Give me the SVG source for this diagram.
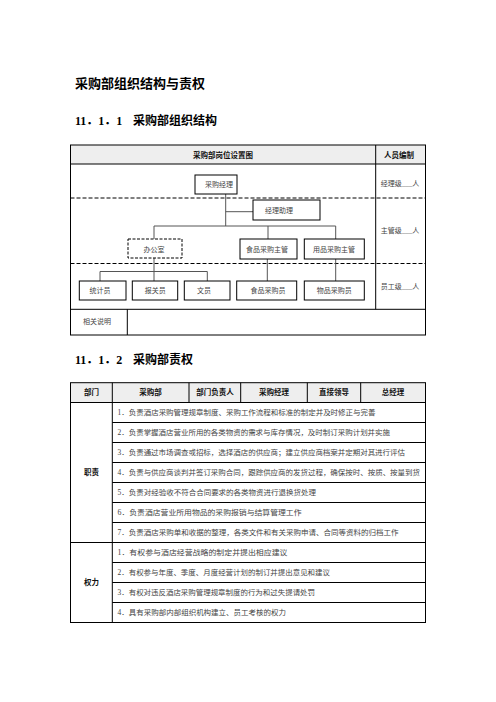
<svg xmlns="http://www.w3.org/2000/svg" width="496" height="702" viewBox="0 0 496 702">
<style>
.t{font-family:"Liberation Serif","Noto Sans CJK SC",serif;fill:#000;font-weight:bold}
.h{font-family:"Noto Sans CJK SC",sans-serif;font-weight:bold;font-size:7.5px;fill:#111;text-anchor:middle}
.o{font-family:"Liberation Serif","Noto Sans CJK SC",serif;font-size:7px;fill:#444;text-anchor:middle}
.r{font-family:"Liberation Serif","Noto Sans CJK SC",serif;font-size:7.2px;fill:#444}
.ln{stroke:#000;stroke-width:1;fill:none}
.dash{stroke:#000;stroke-width:1;stroke-dasharray:4 2;fill:none}
.box{fill:#fff;stroke:#000;stroke-width:1}
.dbox{fill:#fff;stroke:#000;stroke-width:1;stroke-dasharray:3 1.5}
.c{stroke:#555;stroke-width:1;fill:none}
.hd{fill:#eeeeee}
</style>
<rect width="496" height="702" fill="#fff"/>
<text class="t" x="75" y="88" font-size="13">采购部组织结构与责权</text>
<text class="t" font-size="12" y="125"><tspan x="75">11．1．1</tspan><tspan x="133">采购部组织结构</tspan></text>

<g id="table1">
<rect class="hd" x="70.5" y="145" width="355" height="19"/>
<rect class="ln" x="70.5" y="145" width="355" height="190"/>
<line class="ln" x1="70.5" y1="164" x2="425.5" y2="164"/>
<line class="ln" x1="375.7" y1="145" x2="375.7" y2="309.3"/>
<line class="ln" x1="70.5" y1="309.3" x2="425.5" y2="309.3"/>
<line class="ln" x1="127.3" y1="309.3" x2="127.3" y2="335"/>
<line class="dash" x1="70.5" y1="198" x2="425.5" y2="198"/>
<line class="dash" x1="70.5" y1="263.5" x2="425.5" y2="263.5"/>
<text class="h" x="223" y="157.5">采购部岗位设置图</text>
<text class="h" x="399" y="157.5">人员编制</text>
<text class="o" x="97" y="324">相关说明</text>
<text class="o" x="400" y="185.5">经理级___人</text>
<text class="o" x="400" y="233">主管级___人</text>
<text class="o" x="400" y="289">员工级___人</text>
</g>

<g id="connectors">
<polyline class="c" points="225.7,194 225.7,226"/>
<polyline class="c" points="225.7,211.7 253,211.7"/>
<polyline class="c" points="154,239 154,226 335.7,226 335.7,239"/>
<polyline class="c" points="268,226 268,239"/>
<polyline class="c" points="154,258 154,281"/>
<polyline class="c" points="100,281 100,271.5 207.3,271.5 207.3,281"/>
<polyline class="c" points="267.3,259 267.3,281"/>
<polyline class="c" points="335.7,259 335.7,281"/>
</g>

<g id="n-manager"><rect class="box" x="195" y="175" width="42" height="19"/><text class="o" x="219" y="187">采购经理</text></g>
<g id="n-assistant"><rect class="box" x="253" y="200" width="67" height="20"/><text class="o" x="279" y="213">经理助理</text></g>
<g id="n-office"><rect class="dbox" x="128" y="239" width="54" height="19"/><text class="o" x="154" y="251.5">办公室</text></g>
<g id="n-food-sup"><rect class="box" x="240" y="239" width="57" height="20"/><text class="o" x="267" y="252">食品采购主管</text></g>
<g id="n-goods-sup"><rect class="box" x="304.3" y="239" width="60" height="20"/><text class="o" x="334" y="252">用品采购主管</text></g>
<g id="n-stat"><rect class="box" x="79.3" y="281" width="46.7" height="19"/><text class="o" x="100" y="293.2">统计员</text></g>
<g id="n-customs"><rect class="box" x="132.3" y="281" width="45.4" height="19"/><text class="o" x="155.3" y="293.2">报关员</text></g>
<g id="n-clerk"><rect class="box" x="184.3" y="281" width="45.7" height="19"/><text class="o" x="204" y="293.2">文员</text></g>
<g id="n-food-buyer"><rect class="box" x="236.7" y="281" width="60" height="19"/><text class="o" x="268" y="293.2">食品采购员</text></g>
<g id="n-goods-buyer"><rect class="box" x="304.3" y="281" width="60" height="19"/><text class="o" x="334.2" y="293.2">物品采购员</text></g>

<text class="t" font-size="12" y="364"><tspan x="75">11．1．2</tspan><tspan x="133">采购部责权</tspan></text>

<g id="table2">
<rect class="hd" x="70.5" y="382.7" width="355" height="19.8"/>
<rect class="ln" x="70.5" y="382.7" width="355" height="239.8"/>
<line class="ln" x1="70.5" y1="402.5" x2="425.5" y2="402.5"/>
<line class="ln" x1="70.5" y1="542.5" x2="425.5" y2="542.5"/>
<line class="ln" x1="112.3" y1="382.7" x2="112.3" y2="622.5"/>
<line class="ln" x1="189" y1="382.7" x2="189" y2="402.5"/>
<line class="ln" x1="240.7" y1="382.7" x2="240.7" y2="402.5"/>
<line class="ln" x1="307.3" y1="382.7" x2="307.3" y2="402.5"/>
<line class="ln" x1="360.7" y1="382.7" x2="360.7" y2="402.5"/>
<g class="ln">
<line x1="112.3" y1="422.5" x2="425.5" y2="422.5"/>
<line x1="112.3" y1="442.5" x2="425.5" y2="442.5"/>
<line x1="112.3" y1="462.5" x2="425.5" y2="462.5"/>
<line x1="112.3" y1="482.5" x2="425.5" y2="482.5"/>
<line x1="112.3" y1="502.5" x2="425.5" y2="502.5"/>
<line x1="112.3" y1="522.5" x2="425.5" y2="522.5"/>
<line x1="112.3" y1="562.5" x2="425.5" y2="562.5"/>
<line x1="112.3" y1="582.5" x2="425.5" y2="582.5"/>
<line x1="112.3" y1="602.5" x2="425.5" y2="602.5"/>
</g>
<text class="h" x="91.5" y="395">部门</text>
<text class="h" x="150.5" y="395">采购部</text>
<text class="h" x="215" y="395">部门负责人</text>
<text class="h" x="274" y="395">采购经理</text>
<text class="h" x="334" y="395">直接领导</text>
<text class="h" x="393" y="395">总经理</text>
<text class="h" x="91.5" y="475">职责</text>
<text class="h" x="91.5" y="585">权力</text>
<text class="r" x="117.5" y="415" textLength="258" lengthAdjust="spacingAndGlyphs">1．负责酒店采购管理规章制度、采购工作流程和标准的制定并及时修正与完善</text>
<text class="r" x="117.5" y="435" textLength="272.5" lengthAdjust="spacingAndGlyphs">2．负责掌握酒店营业所用的各类物资的需求与库存情况，及时制订采购计划并实施</text>
<text class="r" x="117.5" y="455" textLength="287.5" lengthAdjust="spacingAndGlyphs">3．负责通过市场调查或招标，选择酒店的供应商；建立供应商档案并定期对其进行评估</text>
<text class="r" x="117.5" y="475" textLength="302.5" lengthAdjust="spacingAndGlyphs">4．负责与供应商谈判并签订采购合同，跟踪供应商的发货过程，确保按时、按质、按量到货</text>
<text class="r" x="117.5" y="495" textLength="198.5" lengthAdjust="spacingAndGlyphs">5．负责对经验收不符合合同要求的各类物资进行退换货处理</text>
<text class="r" x="117.5" y="515" textLength="184" lengthAdjust="spacingAndGlyphs">6．负责酒店营业所用物品的采购报销与结算管理工作</text>
<text class="r" x="117.5" y="535" textLength="281" lengthAdjust="spacingAndGlyphs">7．负责酒店采购单和收据的整理，各类文件和有关采购申请、合同等资料的归档工作</text>
<text class="r" x="117.5" y="555" textLength="170" lengthAdjust="spacingAndGlyphs">1．有权参与酒店经营战略的制定并提出相应建议</text>
<text class="r" x="117.5" y="575" textLength="212.5" lengthAdjust="spacingAndGlyphs">2．有权参与年度、季度、月度经营计划的制订并提出意见和建议</text>
<text class="r" x="117.5" y="595" textLength="197.5" lengthAdjust="spacingAndGlyphs">3．有权对违反酒店采购管理规章制度的行为和过失提请处罚</text>
<text class="r" x="117.5" y="615" textLength="168.5" lengthAdjust="spacingAndGlyphs">4．具有采购部内部组织机构建立、员工考核的权力</text>
</g>
</svg>
